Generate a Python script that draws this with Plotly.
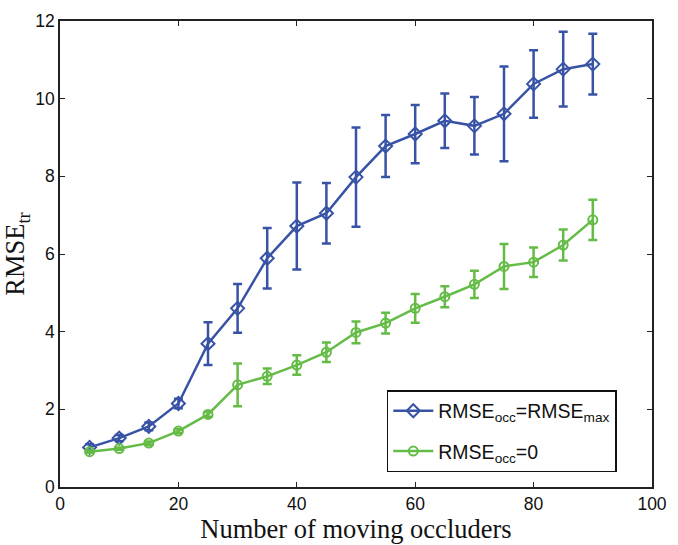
import plotly.graph_objects as go

# Number of moving occluders
occluders = [5, 10, 15, 20, 25, 30, 35, 40, 45, 50, 55, 60, 65, 70, 75, 80, 85, 90]

# RMSE_tr when occluded tracks get RMSE_max
rmse_max_mean = [1.02, 1.26, 1.56, 2.15, 3.69, 4.60, 5.89, 6.72, 7.05, 7.98, 8.78, 9.09, 9.43, 9.30, 9.61, 10.38, 10.76, 10.89]
rmse_max_err = [0.08, 0.08, 0.10, 0.12, 0.55, 0.63, 0.78, 1.12, 0.78, 1.28, 0.80, 0.75, 0.70, 0.74, 1.22, 0.87, 0.96, 0.78]

# RMSE_tr when occluded tracks get 0
rmse_zero_mean = [0.91, 0.99, 1.13, 1.44, 1.87, 2.63, 2.85, 3.14, 3.47, 3.98, 4.22, 4.60, 4.90, 5.22, 5.68, 5.79, 6.23, 6.88]
rmse_zero_err = [0.03, 0.03, 0.04, 0.05, 0.06, 0.55, 0.20, 0.25, 0.25, 0.28, 0.27, 0.37, 0.27, 0.35, 0.58, 0.38, 0.40, 0.52]

x_ticks = [0, 20, 40, 60, 80, 100]
y_ticks = [0, 2, 4, 6, 8, 10, 12]

BLUE = "#3853A6"
GREEN = "#64BC46"
SANS = "Liberation Sans, Arial, sans-serif"
SERIF = "Liberation Serif, Times New Roman, serif"

fig = go.Figure()

fig.add_trace(go.Scatter(
    x=occluders, y=rmse_max_mean,
    mode="lines+markers",
    name="RMSE<sub>occ</sub>=RMSE<sub>max</sub>",
    legendgroup="max",
    line=dict(color=BLUE, width=2.5),
    marker=dict(symbol="diamond-open", size=10, color=BLUE, line=dict(width=2, color=BLUE)),
    error_y=dict(type="data", array=rmse_max_err, visible=True, color=BLUE, thickness=2.5, width=4.5),
))

fig.add_trace(go.Scatter(
    x=occluders, y=rmse_zero_mean,
    mode="lines+markers",
    name="RMSE<sub>occ</sub>=0",
    legendgroup="zero",
    line=dict(color=GREEN, width=2.5),
    marker=dict(symbol="circle-open", size=9, color=GREEN, line=dict(width=2, color=GREEN)),
    error_y=dict(type="data", array=rmse_zero_err, visible=True, color=GREEN, thickness=2.5, width=4.5),
))

axis_common = dict(
    showgrid=False, zeroline=False,
    showline=True, linecolor="#222222", linewidth=1.5, mirror="ticks",
    ticks="inside", ticklen=5, tickwidth=1, tickcolor="#222222",
    tickfont=dict(family=SANS, size=17.5, color="#111111"),
)

fig.update_layout(
    width=678, height=545,
    margin=dict(l=58, r=18, t=11, b=58),
    paper_bgcolor="white", plot_bgcolor="white",
    showlegend=True,
    legend=dict(
        x=0.552, y=0.032, xanchor="left", yanchor="bottom",
        bgcolor="white", bordercolor="#111111", borderwidth=1.5,
        font=dict(family=SANS, size=19.5, color="#111111"),
        itemwidth=40, traceorder="grouped", tracegroupgap=12,
    ),
    xaxis=dict(
        range=[0, 100], tickvals=x_ticks,
        title=dict(text="Number of moving occluders", standoff=2,
                   font=dict(family=SERIF, size=26.5, color="#111111")),
        **axis_common,
    ),
    yaxis=dict(
        range=[0, 12], tickvals=y_ticks,
        title=dict(text="RMSE<sub>tr</sub>", standoff=6,
                   font=dict(family=SERIF, size=26.5, color="#111111")),
        **axis_common,
    ),
)

fig.write_html("out.html")
